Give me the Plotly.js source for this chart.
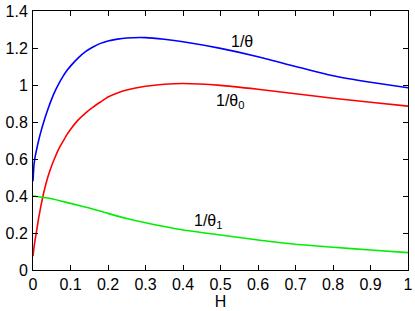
<!DOCTYPE html>
<html>
<head>
<meta charset="utf-8">
<script src="https://cdn.plot.ly/plotly-3.0.1.min.js"></script>
<style>
  html, body { margin: 0; padding: 0; background: #fff; }
  #chart { width: 415px; height: 311px; }
</style>
</head>
<body>
<div id="chart"></div>
<script>
// values
const hGrid = [0, 0.0025, 0.005, 0.01, 0.015, 0.02, 0.03, 0.04, 0.05, 0.06, 0.07, 0.08, 0.09, 0.1,
               0.12, 0.14, 0.16, 0.18, 0.2, 0.225, 0.25, 0.3, 0.35, 0.4, 0.5, 0.6, 0.7, 0.8, 0.9, 1.0];
const invTheta = [0.48, 0.565, 0.605, 0.655, 0.70, 0.74, 0.81, 0.87, 0.925, 0.972, 1.012, 1.047, 1.077, 1.102,
                  1.145, 1.18, 1.205, 1.225, 1.238, 1.248, 1.254, 1.256, 1.247, 1.234, 1.198, 1.153, 1.10, 1.05, 1.015, 0.985];
const invTheta0 = [0.075, 0.12, 0.155, 0.215, 0.28, 0.335, 0.43, 0.505, 0.565, 0.615, 0.66, 0.695, 0.73, 0.76,
                   0.81, 0.848, 0.88, 0.908, 0.935, 0.957, 0.973, 0.993, 1.004, 1.008, 0.998, 0.977, 0.953, 0.928, 0.907, 0.886];
const hGreen = [0, 0.05, 0.1, 0.15, 0.2, 0.25, 0.3, 0.35, 0.4, 0.5, 0.6, 0.7, 0.8, 0.9, 1.0];
const invTheta1 = [0.40, 0.385, 0.36, 0.335, 0.306, 0.278, 0.255, 0.235, 0.216, 0.189, 0.162, 0.139, 0.123, 0.108, 0.094];

const labels = ['1/θ', '1/θ<sub>0</sub>', '1/θ<sub>1</sub>'];
const labelX = [0.557, 0.525, 0.467];
const labelY = [1.234, 0.91, 0.261];

const font = { family: '"Liberation Sans", Arial, sans-serif', size: 16, color: '#000' };

const traces = [
    { x: hGrid, y: invTheta, mode: 'lines', line: { color: '#0000ff', width: 1.6, shape: 'spline', smoothing: 0.5 } },
    { x: hGrid, y: invTheta0, mode: 'lines', line: { color: '#ff0000', width: 1.6, shape: 'spline', smoothing: 0.5 } },
    { x: hGreen, y: invTheta1, mode: 'lines', line: { color: '#00ee00', width: 1.6, shape: 'spline', smoothing: 0.5 } }
];

const axisStyle = {
    showline: true, linecolor: '#000', linewidth: 1, mirror: 'ticks',
    ticks: 'inside', ticklen: 5, tickcolor: '#000', tickwidth: 1,
    showgrid: false, zeroline: false, tickfont: font
};

const layout = {
    width: 415, height: 311,
    margin: { l: 33, r: 7, t: 11, b: 41 },
    paper_bgcolor: '#fff', plot_bgcolor: '#fff',
    showlegend: false,
    font: font,
    xaxis: Object.assign({}, axisStyle, {
        range: [0, 1], dtick: 0.1, tick0: 0,
        title: { text: 'H', font: font, standoff: 0 }
    }),
    yaxis: Object.assign({}, axisStyle, { range: [0, 1.4], dtick: 0.2, tick0: 0, ticklabelstandoff: 1 }),
    annotations: labels.map((t, i) => ({
        x: labelX[i], y: labelY[i], text: t, showarrow: false, font: font
    }))
};

Plotly.newPlot('chart', traces, layout, { displayModeBar: false, staticPlot: true });
</script>
</body>
</html>
